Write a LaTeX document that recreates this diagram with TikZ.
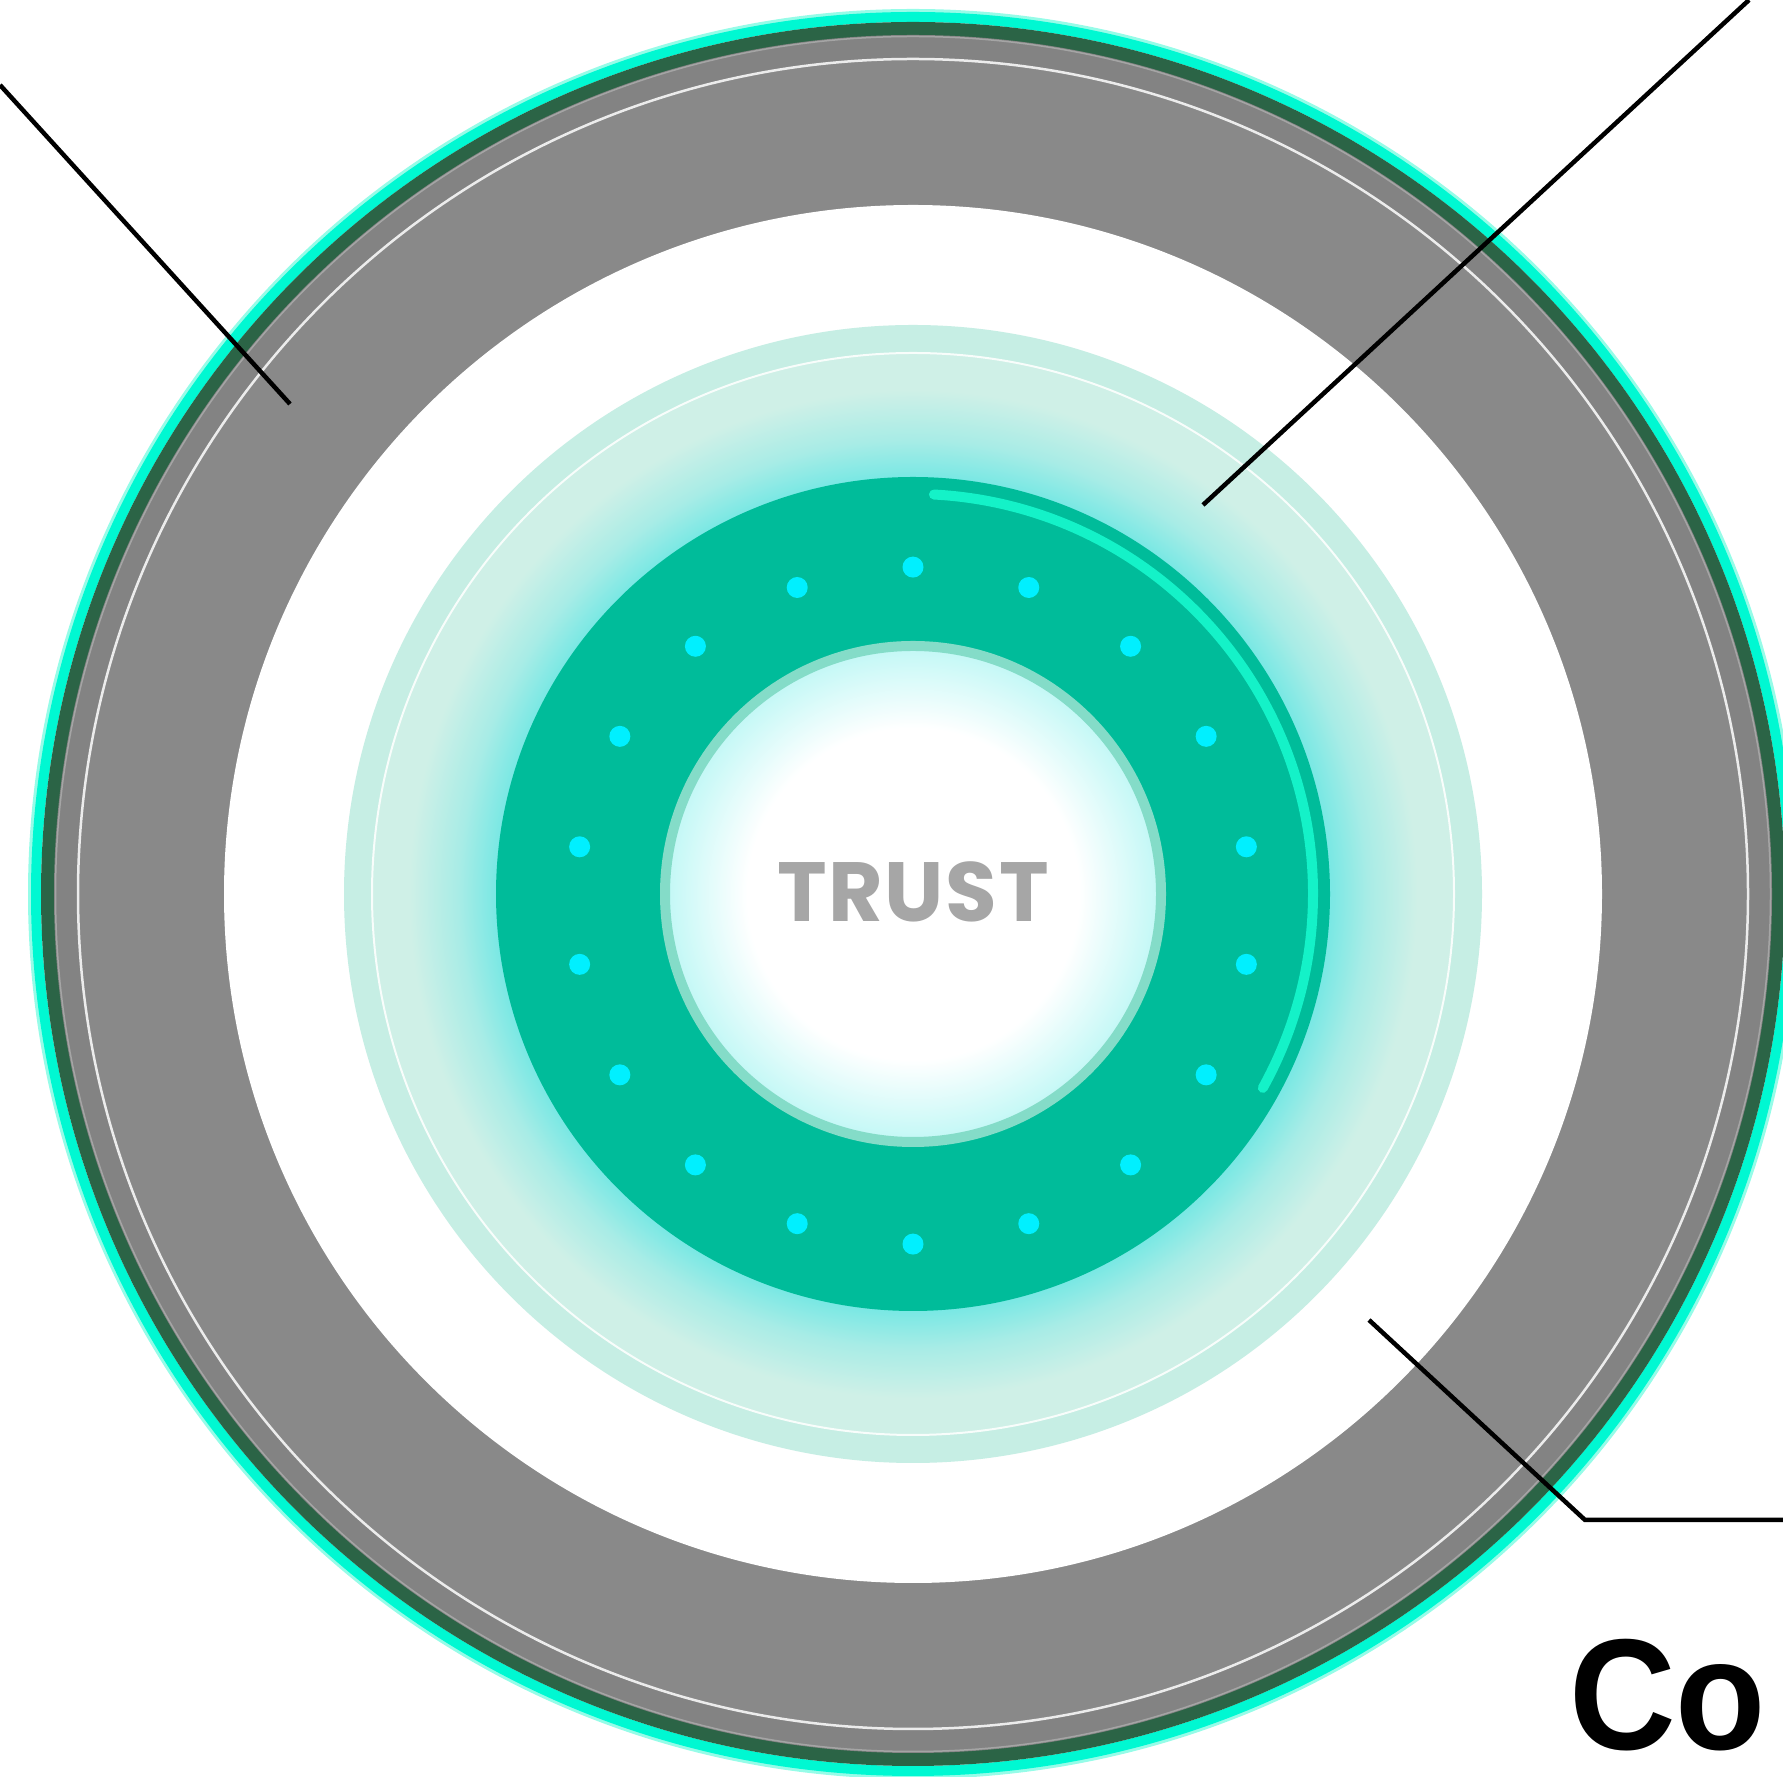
\documentclass[tikz,border=0pt]{standalone}
\usepackage{fontspec}
\newfontfamily\labelfont{Liberation Sans}
\newfontfamily\trustfont{Poppins}[LetterSpace=2]
\definecolor{cyanedge}{RGB}{0,248,210}
\definecolor{cyansoft}{RGB}{150,252,232}
\definecolor{darkring}{RGB}{43,100,70}
\definecolor{ringgray}{RGB}{137,137,137}
\definecolor{bandgray}{RGB}{131,131,131}
\definecolor{edgegray}{RGB}{165,165,165}
\definecolor{thinwhite}{RGB}{236,236,236}
\definecolor{mintring}{RGB}{198,238,228}
\definecolor{mintc}{RGB}{207,240,231}
\definecolor{glowc}{RGB}{122,232,228}
\definecolor{glowmid}{RGB}{168,236,230}
\definecolor{diskc}{RGB}{0,188,154}
\definecolor{arcc}{RGB}{20,242,200}
\definecolor{dotc}{RGB}{0,240,255}
\definecolor{borderc}{RGB}{132,220,200}
\definecolor{inneredge}{RGB}{196,248,246}
\definecolor{trustgray}{RGB}{166,166,166}
\pgfdeclareradialshading{glowshade}{\pgfpoint{0bp}{0bp}}{color(0bp)=(glowc); color(19.3bp)=(glowc); color(21bp)=(glowmid); color(23.3bp)=(mintc); color(25bp)=(mintc); color(50bp)=(mintc)}
\pgfdeclareradialshading{coreshade}{\pgfpoint{0bp}{0bp}}{color(0bp)=(white); color(17bp)=(white); color(25bp)=(inneredge); color(50bp)=(inneredge)}
\tikzset{
  leader/.style={line width=4.5pt, black, line join=miter},
  dotstyle/.style={fill=dotc},
}
\begin{document}
\begin{tikzpicture}[x=1pt,y=1pt]
\useasboundingbox (0,0) rectangle (1783,1777);
\clip (0,0) rectangle (1783,1777);
\coordinate (c) at (913,883);
\coordinate (dc) at (913,871.4);
% outer ring
\draw[cyansoft, line width=4pt] (c) circle[radius=883];
\draw[cyanedge, line width=10pt] (c) circle[radius=877];
\fill[darkring] (c) circle[radius=872];
\fill[bandgray] (c) circle[radius=859];
\draw[edgegray, line width=1.5pt] (c) circle[radius=857.5];
\fill[ringgray] (c) circle[radius=835];
\draw[thinwhite, line width=2.5pt] (c) circle[radius=835];
\fill[white] (c) circle[radius=689];
% mint disk with glow
\fill[mintring] (c) circle[radius=569];
\fill[shading=glowshade] (c) circle[radius=541];
\draw[white!85!mintc, line width=2pt] (c) circle[radius=541];
% green disk
\fill[diskc] (c) circle[radius=417];
\draw[arcc, line width=10pt, line cap=round] (c) ++(87:400) arc[start angle=87, end angle=-29, radius=400];
\foreach \k in {0,...,17} \fill[dotstyle] (dc) ++({90-20*\k}:338.5) circle[radius=10.5];
% core
\fill[shading=coreshade] (c) circle[radius=244];
\draw[borderc, line width=10pt] (c) circle[radius=248];
\node[font=\trustfont\bfseries\fontsize{84}{84}\selectfont, text=trustgray, anchor=base, inner sep=0pt] (trust) at (913,855) {TRUST};
% label
\node[font=\labelfont\bfseries\fontsize{158}{158}\selectfont, anchor=base west, inner sep=0pt] (lbl) at (1569,27) {\scalebox{0.935}[1]{Co}};
% leaders
\coordinate (l1a) at (0,1692); \coordinate (l1b) at (290,1373);
\coordinate (l2a) at (1749,1777); \coordinate (l2b) at (1203,1272);
\coordinate (l3a) at (1369,457); \coordinate (l3b) at (1585,257); \coordinate (l3c) at (1783,257);
\draw[leader] (l1a) -- (l1b);
\draw[leader] (l2a) -- (l2b);
\draw[leader] (l3a) -- (l3b) -- (l3c);
\end{tikzpicture}
\end{document}
